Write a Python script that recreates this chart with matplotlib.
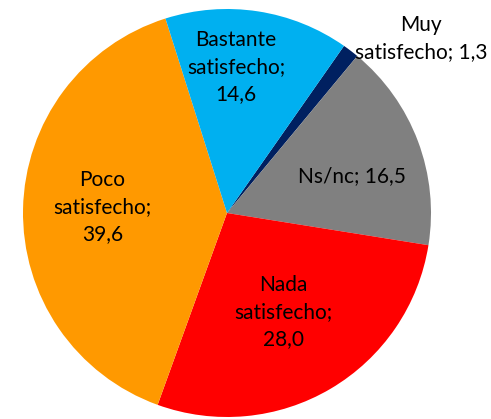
import matplotlib
matplotlib.use("Agg")
import matplotlib.pyplot as plt

categories = ["Muy\nsatisfecho", "Ns/nc", "Nada\nsatisfecho", "Poco\nsatisfecho", "Bastante\nsatisfecho"]
values = [1.3, 16.5, 28.0, 39.6, 14.6]
colors = ["#002060", "#808080", "#FF0000", "#FF9900", "#00B0F0"]
label_texts = ["Muy\nsatisfecho; 1,3", "Ns/nc; 16,5", "Nada\nsatisfecho;\n28,0",
               "Poco\nsatisfecho;\n39,6", "Bastante\nsatisfecho;\n14,6"]
label_pos = [(0.95, 0.855), (0.61, 0.18), (0.275, -0.485), (-0.61, 0.03), (0.045, 0.715)]

plt.rcParams['font.family'] = ['Lato', 'DejaVu Sans']

fig = plt.figure(figsize=(4.91, 4.19), dpi=100)
ax = fig.add_axes([23/491, 2/419, 408/491, 408/419])
ax.pie(values, colors=colors, startangle=55, counterclock=False,
       wedgeprops=dict(linewidth=0))
ax.set_xlim(-1, 1)
ax.set_ylim(-1, 1)
ax.set_aspect('equal')
ax.axis('off')
for t, (x, y) in zip(label_texts, label_pos):
    ax.text(x, y, t, ha='center', va='center', fontsize=15, color='black',
            linespacing=1.42, clip_on=False)

fig.savefig("out.png", dpi=100)
